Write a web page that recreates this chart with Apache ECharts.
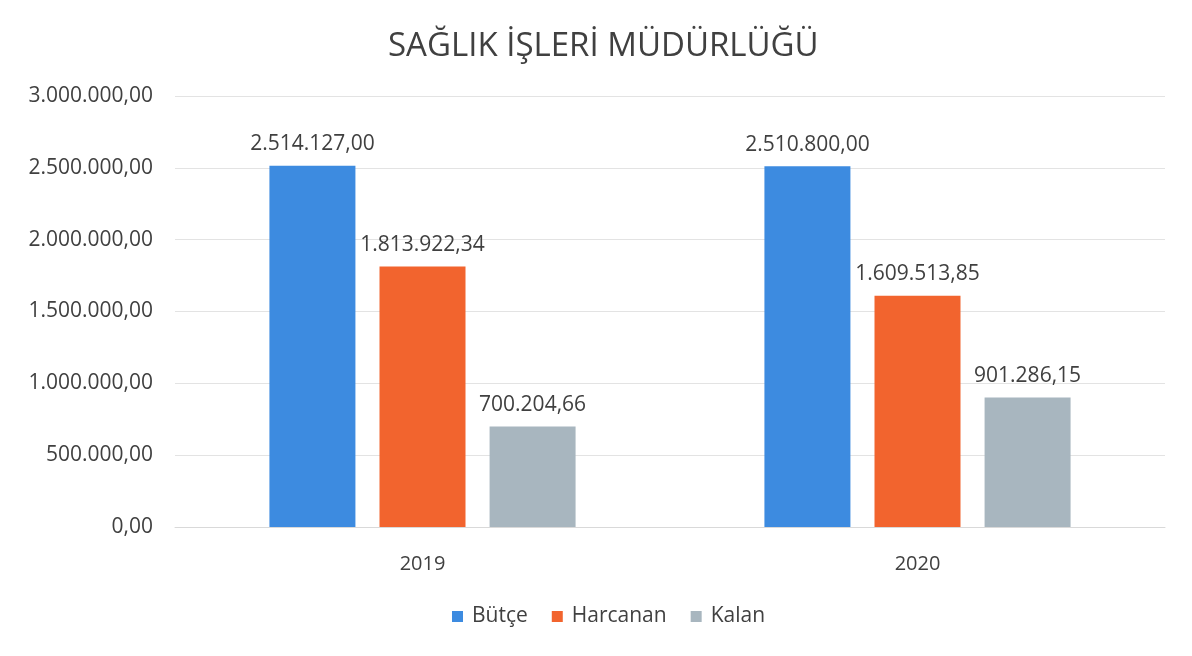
<!DOCTYPE html>
<html><head><meta charset="utf-8">
<script src="https://cdn.jsdelivr.net/npm/echarts@6/dist/echarts.min.js"></script>
<style>html,body{margin:0;padding:0;background:#fff}#c{width:1192px;height:656px}</style>
</head><body><div id="c"></div>
<script>
const title = 'SAĞLIK İŞLERİ MÜDÜRLÜĞÜ';
const categories = ['2019', '2020'];
const seriesNames = ['Bütçe', 'Harcanan', 'Kalan'];
const butce = [2514127.00, 2510800.00];
const harcanan = [1813922.34, 1609513.85];
const kalan = [700204.66, 901286.15];
const colors = ['#3d8be0', '#f2642e', '#a8b6bf'];

function trFmt(v) {
  const parts = Number(v).toFixed(2).split('.');
  const intPart = parts[0].replace(/\B(?=(\d{3})+(?!\d))/g, '.');
  return intPart + ',' + parts[1];
}
const FONT = '"Open Sans", "Noto Sans", sans-serif';
const values = [butce, harcanan, kalan];
const chart = echarts.init(document.getElementById('c'));
chart.setOption({
  backgroundColor: '#ffffff',
  animation: false,
  title: { text: title, left: 383, top: 25,
    textStyle: { fontFamily: FONT, fontSize: 33, fontWeight: 'normal', color: '#404040' } },
  legend: { bottom: 24, left: 447, itemWidth: 11, itemHeight: 11, itemGap: 24,
    icon: 'rect',
    textStyle: { fontFamily: FONT, fontSize: 21, color: '#404040', padding: [0, 0, 0, 4] } },
  grid: { left: 175, right: 27, top: 96, bottom: 129, containLabel: false },
  xAxis: { type: 'category', data: categories,
    axisLine: { lineStyle: { color: '#d9d9d9' } }, axisTick: { show: false },
    axisLabel: { fontFamily: FONT, fontSize: 20, color: '#404040', margin: 27 } },
  yAxis: { type: 'value', min: 0, max: 3000000, interval: 500000,
    axisLine: { show: false }, axisTick: { show: false },
    splitLine: { lineStyle: { color: '#e3e3e3' } },
    axisLabel: { fontFamily: FONT, fontSize: 21, color: '#404040', margin: 22, formatter: trFmt } },
  series: seriesNames.map((n, i) => ({
    name: n, type: 'bar', data: values[i], barWidth: 86, barGap: '28%',
    itemStyle: { color: colors[i] },
    label: { show: true, position: 'top', distance: 11, formatter: p => trFmt(p.value),
      fontFamily: FONT, fontSize: 21, color: '#404040' }
  }))
});
</script></body></html>
